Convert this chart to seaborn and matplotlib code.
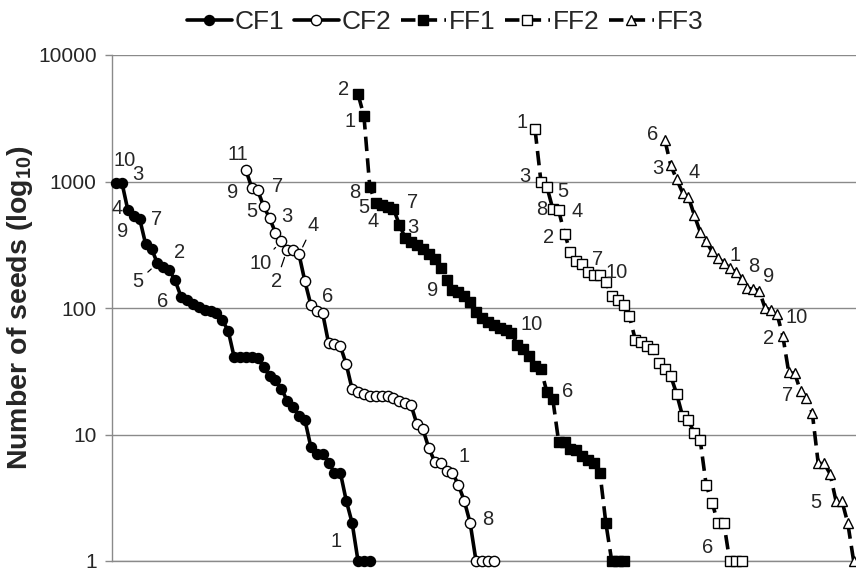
import numpy as np
import pandas as pd
import matplotlib
matplotlib.use("Agg")
import matplotlib.pyplot as plt
import seaborn as sns

# ---------------- data ----------------
series_names = ["CF1", "CF2", "FF1", "FF2", "FF3"]
start_rank = [1, 23, 42, 72, 94]

cf1_seeds = [980, 970, 590, 530, 505, 320, 295, 225, 210, 200, 165, 123, 116, 108,
             102, 96, 94, 92, 80, 66, 41, 41, 41, 41, 40, 34, 29, 27, 23, 18.5,
             16.5, 14, 13, 8, 7, 7, 6, 5, 5, 3, 2, 1, 1, 1]
cf2_seeds = [1230, 890, 850, 637, 515, 394, 336, 290, 290, 265, 162, 106, 95, 91,
             53, 52, 50, 36, 22.8, 21.7, 20.8, 20.1, 20, 20, 20, 19.5, 18.5, 17.9,
             17, 12, 11, 7.8, 6.1, 6, 5.1, 5, 4, 3, 2, 1, 1, 1, 1]
ff1_seeds = [4900, 3300, 900, 680, 650, 630, 610, 456, 357, 332, 312, 294, 268, 245,
             207, 165, 140, 133, 125, 111, 93, 84, 77, 73, 70, 67, 64, 51, 47, 42,
             35, 33, 21.7, 19.2, 8.8, 8.7, 7.7, 7.6, 6.8, 6.3, 5.9, 5, 2, 1, 1, 1]
ff2_seeds = [2580, 1000, 910, 610, 590, 387, 278, 236, 224, 193, 182, 182, 161, 124,
             116, 106, 86, 56, 54, 50, 47, 37, 33, 29, 21, 14, 13, 10.2, 9, 4, 2.9,
             2, 2, 1, 1, 1]
ff3_seeds = [2130, 1346, 1040, 818, 755, 540, 399, 336, 280, 248, 228, 207, 194, 170,
             143, 141, 137, 99.5, 97, 90, 60, 31, 30.6, 22, 19.6, 14.7, 5.9, 5.9,
             4.9, 3, 3, 2, 1]
all_seeds = [cf1_seeds, cf2_seeds, ff1_seeds, ff2_seeds, ff3_seeds]

y_ticks = [1, 10, 100, 1000, 10000]
y_tick_labels = ["1", "10", "100", "1000", "10000"]

# point labels: (series, point index, text)
point_labels = [
    ("CF1", 0, "10"), ("CF1", 1, "3"), ("CF1", 2, "4"), ("CF1", 3, "9"), ("CF1", 4, "7"),
    ("CF1", 9, "2"), ("CF1", 7, "5"), ("CF1", 11, "6"), ("CF1", 40, "1"),
    ("CF2", 0, "11"), ("CF2", 1, "9"), ("CF2", 2, "7"), ("CF2", 3, "5"), ("CF2", 4, "3"),
    ("CF2", 9, "4"), ("CF2", 6, "10"), ("CF2", 7, "2"), ("CF2", 11, "6"), ("CF2", 35, "1"),
    ("CF2", 38, "8"),
    ("FF1", 0, "2"), ("FF1", 1, "1"), ("FF1", 2, "8"), ("FF1", 3, "5"), ("FF1", 4, "4"),
    ("FF1", 6, "7"), ("FF1", 7, "3"), ("FF1", 15, "9"), ("FF1", 26, "10"), ("FF1", 33, "6"),
    ("FF2", 0, "1"), ("FF2", 1, "3"), ("FF2", 2, "5"), ("FF2", 3, "8"), ("FF2", 4, "4"),
    ("FF2", 5, "2"), ("FF2", 9, "7"), ("FF2", 12, "10"), ("FF2", 31, "6"),
    ("FF3", 0, "6"), ("FF3", 1, "3"), ("FF3", 2, "4"), ("FF3", 11, "1"), ("FF3", 13, "8"),
    ("FF3", 16, "9"), ("FF3", 19, "10"), ("FF3", 20, "2"), ("FF3", 23, "7"), ("FF3", 29, "5"),
]
# label placement (pixel offsets from the point, leader line flag)
label_offsets = [
    (8, 22, 0), (16, 9, 0), (-11, 2, 0), (-11, -15, 0), (17, 0, 0),
    (10, 17, 0), (-20, -18, 1), (-18, -5, 0), (-16, -19, 0),
    (-8, 16, 0), (-19, -5, 0), (20, 4, 0), (-12, -5, 0), (17, 1, 0),
    (14, 29, 1), (-21, -22, 1), (-11, -32, 1), (17, 8, 0), (12, 16, 0),
    (18, 3, 0),
    (-14, 5, 0), (-14, -6, 0), (-15, -5, 0), (-12, -5, 0), (-9, -16, 0),
    (19, 6, 0), (13, -3, 0), (-14, -10, 0), (20, 8, 0), (15, 7, 0),
    (-13, 7, 0), (-16, 5, 0), (16, -5, 0), (-11, -1, 0), (18, -1, 0),
    (-16, -4, 0), (9, 12, 0), (11, 9, 0), (-10, -25, 0),
    (-12, 5, 0), (-13, -3, 0), (17, 7, 0), (5, 13, 0), (12, 12, 0),
    (9, 14, 0), (20, -4, 0), (-14, -2, 0), (-13, -4, 0), (-20, -2, 0),
]

# ---------------- style ----------------
sns.set_style("white")
plt.rcParams["font.family"] = ["Liberation Sans", "DejaVu Sans"]
plt.rcParams["mathtext.fontset"] = "custom"
plt.rcParams["mathtext.rm"] = "Liberation Sans"
plt.rcParams["mathtext.bf"] = "Liberation Sans:bold"

grid_col = "#8a8a8a"
dash = (0, (4, 2))
styles = {
    "CF1": dict(marker="o", markersize=7.2, markerfacecolor="black", linestyle="-"),
    "CF2": dict(marker="o", markersize=7.4, markerfacecolor="white", linestyle="-"),
    "FF1": dict(marker="s", markersize=6.6, markerfacecolor="black", linestyle=dash),
    "FF2": dict(marker="s", markersize=6.8, markerfacecolor="white", linestyle=dash),
    "FF3": dict(marker="^", markersize=7.6, markerfacecolor="white", linestyle=dash),
}

fig = plt.figure(figsize=(8.56, 5.71), dpi=100)
ax = fig.add_axes([112 / 856, 1 - 561 / 571, 744 / 856, (561 - 55) / 571])

handles = []
frames = {}
for name, start, vals in zip(series_names, start_rank, all_seeds):
    df = pd.DataFrame({"rank": np.arange(start, start + len(vals)), "seeds": vals})
    frames[name] = df
    sns.lineplot(data=df, x="rank", y="seeds", ax=ax, color="black", linewidth=2.6,
                 markeredgecolor="black", markeredgewidth=1.0, clip_on=False,
                 estimator=None, sort=False, legend=False, **styles[name])
    line = ax.lines[-1]
    line.set_label(name)
    line.set_zorder(3)
    handles.append(line)

ax.set_yscale("log")
ax.set_ylim(1, 10000)
ax.set_xlim(0.3, 126.4)
ax.set_yticks(y_ticks)
ax.set_yticklabels(y_tick_labels)
ax.minorticks_off()
ax.set_xticks([])
ax.set_xlabel("")
ax.grid(axis="y", color=grid_col, linewidth=1.0)
ax.set_axisbelow(True)
for s in ["top", "right"]:
    ax.spines[s].set_visible(False)
ax.spines["left"].set_color(grid_col)
ax.spines["bottom"].set_color(grid_col)
ax.spines["left"].set_linewidth(1.0)
ax.spines["bottom"].set_linewidth(1.0)
ax.tick_params(axis="y", which="major", length=5, color=grid_col, width=1.0,
               labelsize=15, pad=6, left=True)

ax.set_ylabel(r"Number of seeds (log$_{\mathbf{10}}$)", fontsize=20.5, fontweight="bold")
ax.yaxis.set_label_coords(-0.103, 0.5)

for (name, idx, txt), (dx, dy, leader) in zip(point_labels, label_offsets):
    df = frames[name]
    xy = (df["rank"].iloc[idx], df["seeds"].iloc[idx])
    kw = {}
    if leader:
        kw["arrowprops"] = dict(arrowstyle="-", color="black", lw=0.9,
                                shrinkA=1.5, shrinkB=6)
    ax.annotate(txt, xy=xy, xytext=(dx, dy), textcoords="offset pixels",
                ha="center", va="center", fontsize=14.5, zorder=5,
                annotation_clip=False, **kw)

fig.legend(handles=handles, labels=series_names, loc="upper center",
           bbox_to_anchor=(0.52, 1.01), ncol=5, frameon=False, fontsize=19,
           handlelength=1.7, handletextpad=0.12, columnspacing=0.35,
           borderaxespad=0.2)

fig.savefig("out.png", dpi=100)
